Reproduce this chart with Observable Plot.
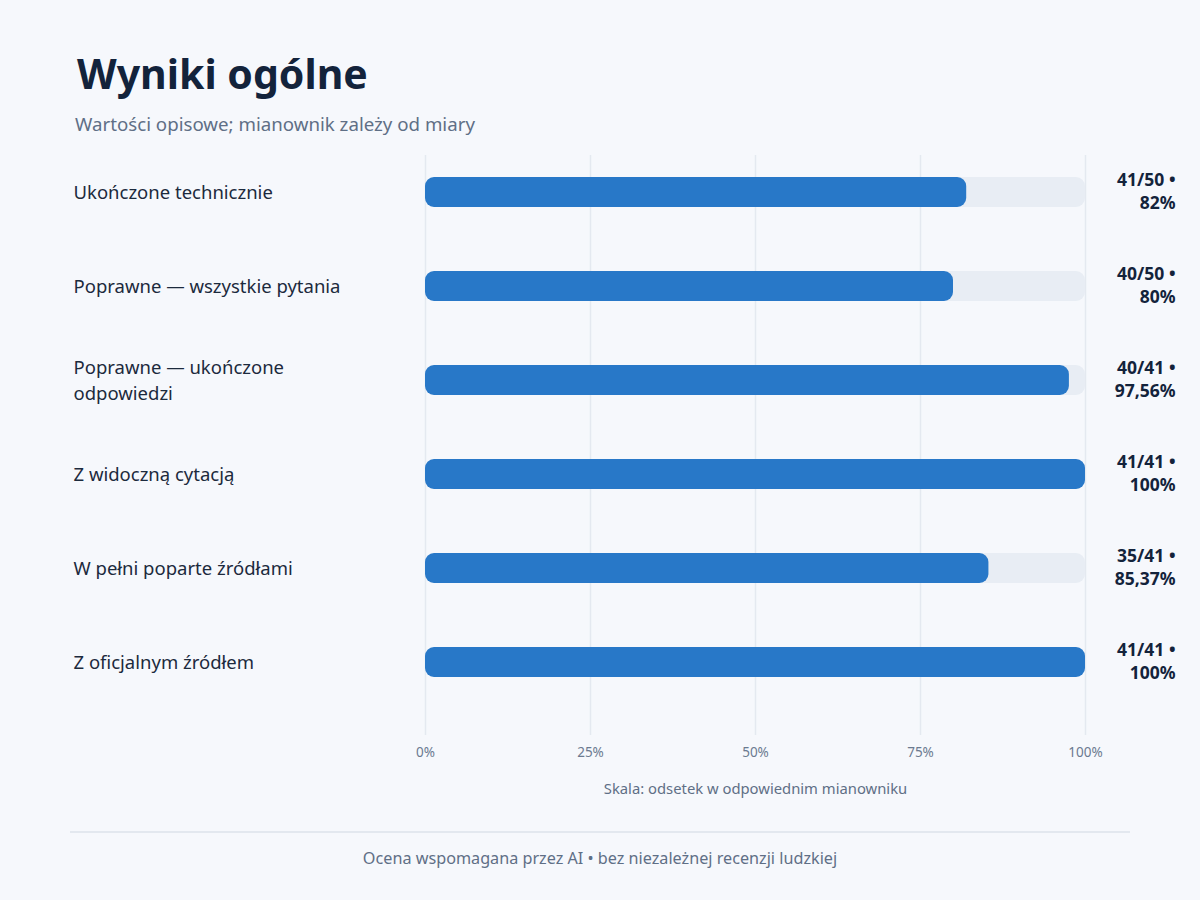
<!DOCTYPE html>
<html>
<head>
<meta charset="utf-8">
<script src="https://cdn.jsdelivr.net/npm/d3@7"></script>
<script src="https://cdn.jsdelivr.net/npm/@observablehq/plot@0.6"></script>
<style>
  html, body { margin: 0; padding: 0; background: #f6f8fc; }
  #page { position: relative; width: 1200px; height: 900px; background: #f6f8fc; font-family: "Noto Sans", "Open Sans", sans-serif; overflow: hidden; }
  #title { position: absolute; left: 77px; top: 49px; font-size: 41px; font-weight: 700; color: #13233b; line-height: 1.2; margin: 0; }
  #subtitle { position: absolute; left: 75px; top: 113px; font-size: 18.7px; color: #5f6f86; line-height: 1.2; }
  #chart { position: absolute; left: 0; top: 140px; }
  #rule { position: absolute; left: 70px; top: 831px; width: 1060px; height: 2px; background: #e3e8ef; }
  #footer { position: absolute; left: 0; width: 1200px; top: 849px; text-align: center; font-size: 16.2px; color: #5f6f86; line-height: 1.2; }
</style>
</head>
<body>
<div id="page">
  <div id="title">Wyniki ogólne</div>
  <div id="subtitle">Wartości opisowe; mianownik zależy od miary</div>
  <div id="chart"></div>
  <div id="rule"></div>
  <div id="footer">Ocena wspomagana przez AI • bez niezależnej recenzji ludzkiej</div>
</div>
<script>
const categories = [
  "Ukończone technicznie",
  "Poprawne — wszystkie pytania",
  "Poprawne — ukończone\nodpowiedzi",
  "Z widoczną cytacją",
  "W pełni poparte źródłami",
  "Z oficjalnym źródłem"
];
const numerators = [41, 40, 40, 41, 35, 41];
const denominators = [50, 50, 41, 41, 41, 41];
const xTicks = [0, 0.25, 0.5, 0.75, 1];
const axisLabel = "Skala: odsetek w odpowiednim mianowniku";

const fmtPct = (p) => (Math.round(p * 10000) / 100).toString().replace(".", ",") + "%";

const data = categories.map((label, i) => {
  const share = numerators[i] / denominators[i];
  return {
    label,
    share,
    value: `${numerators[i]}/${denominators[i]} •\n${fmtPct(share)}`
  };
});

const chart = Plot.plot({
  width: 1200,
  height: 675,
  marginLeft: 425,
  marginRight: 115,
  marginTop: 15,
  marginBottom: 80,
  style: { background: "transparent", fontFamily: "'Noto Sans', 'Open Sans', sans-serif", overflow: "visible" },
  x: { domain: [0, 1] },
  y: { domain: categories, range: [5, 569], padding: 0, axis: null },
  marks: [
    Plot.ruleX(xTicks, { stroke: "#e4e9f0", strokeWidth: 1.5 }),
    Plot.barX(data, { x1: 0, x2: 1, y: "label", fill: "#e8edf4", insetTop: 32, insetBottom: 32, rx: 9 }),
    Plot.barX(data, { x1: 0, x2: "share", y: "label", fill: "#2878c8", insetTop: 32, insetBottom: 32, rx: 9 }),
    Plot.text(data, { y: "label", text: "label", frameAnchor: "left", dx: -352, dy: -2, textAnchor: "start", fontSize: 18.5, fill: "#1c2a3d", lineHeight: 1.4 }),
    Plot.text(data, { x: 1, y: "label", text: "value", dx: 90, dy: -2, textAnchor: "end", fontSize: 17.5, fontWeight: 700, fill: "#13233b", lineHeight: 1.32 }),
    Plot.axisX(xTicks, { tickSize: 0, tickPadding: 12, tickFormat: (d) => d * 100 + "%", fontSize: 13.5, color: "#6b7a90", label: null }),
    Plot.text([axisLabel], { frameAnchor: "bottom", dy: 58, fontSize: 14.8, fill: "#5f6f86" })
  ]
});
document.getElementById("chart").appendChild(chart);
</script>
</body>
</html>
